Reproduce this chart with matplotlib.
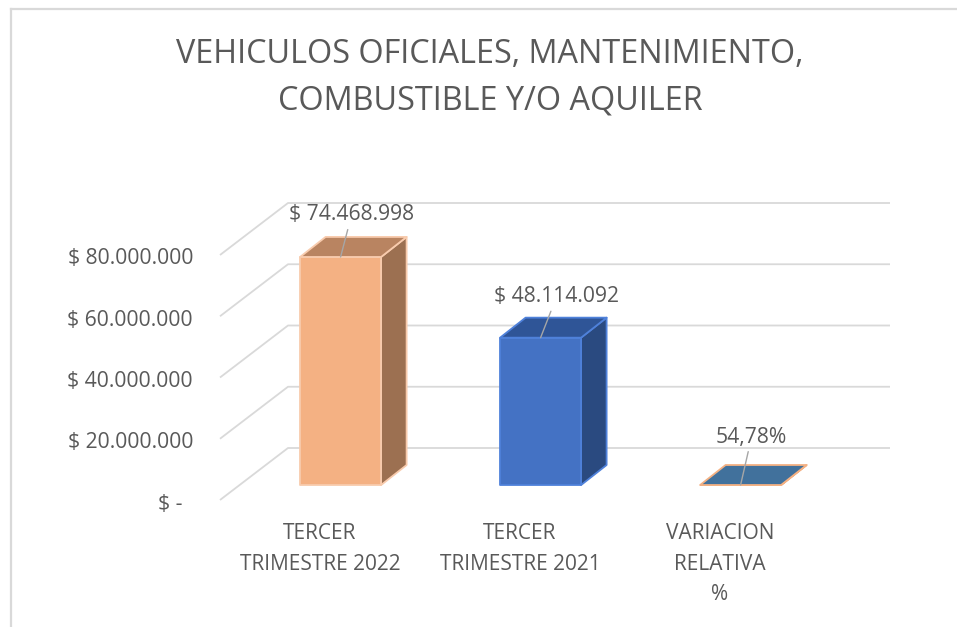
import matplotlib
matplotlib.use("Agg")
import matplotlib.pyplot as plt
from matplotlib.patches import Polygon
from matplotlib.lines import Line2D

plt.rcParams['font.family'] = ['Open Sans', 'DejaVu Sans']

# ---- data ----
categories = ["TERCER\nTRIMESTRE 2022", "TERCER\nTRIMESTRE 2021", "VARIACION\nRELATIVA\n%"]
values = [74468998, 48114092, 0.5478]
value_labels = ["$ 74.468.998", "$ 48.114.092", "54,78%"]
y_ticks = [0, 20000000, 40000000, 60000000, 80000000]
title = "VEHICULOS OFICIALES, MANTENIMIENTO,\nCOMBUSTIBLE Y/O AQUILER"

# ---- style ----
front_colors = ["#F4B183", "#4472C4", "#4472C4"]
top_colors = ["#B98461", "#2F5597", "#41719C"]
side_colors = ["#9C7051", "#2A4A80", "#2A4A80"]
edge_colors = ["#F8CBAD", "#4F81DA", "#F4B183"]
label_offsets = [(11, 42), (16, 41), (11, 48)]
text_color = "#595959"
grid_color = "#D9D9D9"

W, H = 957, 627
fig = plt.figure(figsize=(W / 100, H / 100), dpi=100)
fig.patch.set_facecolor("white")

# axes = front plane of the 3D box
ax_left_px, ax_right_px = 220, 822
ax_bottom_px, ax_top_px = 500, 255
ax = fig.add_axes([ax_left_px / W, (H - ax_bottom_px) / H,
                   (ax_right_px - ax_left_px) / W, (ax_bottom_px - ax_top_px) / H])
xmin, xmax = -0.505, 2.505
ymin, ymax = 0, 80000000
ax.set_xlim(xmin, xmax)
ax.set_ylim(ymin, ymax)
ax.axis("off")

px_per_x = (ax_right_px - ax_left_px) / (xmax - xmin)
px_per_y = (ax_bottom_px - ax_top_px) / (ymax - ymin)

# depth vector of the whole box (in data units)
depth_dx = 68 / px_per_x
depth_dy = 52 / px_per_y
back_right = xmin + (890 - ax_left_px) / px_per_x

# gridlines: diagonal on side wall + back wall
for v in y_ticks:
    ax.plot([xmin, xmin + depth_dx, back_right],
            [v, v + depth_dy, v + depth_dy],
            color=grid_color, lw=1.3, zorder=1, clip_on=False,
            solid_capstyle="butt")
    lab = "$ -  " if v == 0 else "$ " + f"{v:,.0f}".replace(",", ".")
    ax.annotate(lab, xy=(xmin, v), xytext=(-27, -4), textcoords="offset pixels",
                ha="right", va="center", fontsize=15.2, color=text_color,
                annotation_clip=False)

# bars (oblique 3D)
f0 = 0.288
f_bar = 0.385
half_w = 40.5 / px_per_x
for i, v in enumerate(values):
    ox = i + f0 * depth_dx
    oy = f0 * depth_dy
    ddx = f_bar * depth_dx * 0.975
    ddy = f_bar * depth_dy
    xl, xr = ox - half_w, ox + half_w
    y0, y1 = oy, oy + v
    side = [(xr, y0), (xr + ddx, y0 + ddy), (xr + ddx, y1 + ddy), (xr, y1)]
    top = [(xl, y1), (xr, y1), (xr + ddx, y1 + ddy), (xl + ddx, y1 + ddy)]
    front = [(xl, y0), (xr, y0), (xr, y1), (xl, y1)]
    for pts, col in ((side, side_colors[i]), (front, front_colors[i]), (top, top_colors[i])):
        ax.add_patch(Polygon(pts, closed=True, facecolor=col, edgecolor=edge_colors[i],
                             lw=1.3, zorder=3, clip_on=False, joinstyle="round"))
    # data label with leader line
    ax.annotate(value_labels[i], xy=(ox, y1), xytext=label_offsets[i],
                textcoords="offset pixels", ha="center", va="center",
                fontsize=15.2, color=text_color, zorder=5, annotation_clip=False,
                arrowprops=dict(arrowstyle="-", color="#A6A6A6", lw=1.0,
                                shrinkA=1, shrinkB=0))
    # category label
    ax.annotate(categories[i], xy=(i, 0), xytext=(-1, -23), textcoords="offset pixels",
                ha="center", va="top", fontsize=15, color=text_color,
                linespacing=1.6, annotation_clip=False)

# title
fig.text(490 / W, 1 - 78 / H, title, ha="center", va="center", fontsize=23.3,
         color=text_color, linespacing=1.55)

# chart border (left and top visible)
fig.add_artist(Line2D([11 / W, 11 / W], [0, 1 - 9 / H], color=grid_color, lw=1.6))
fig.add_artist(Line2D([11 / W, 1], [1 - 9 / H, 1 - 9 / H], color=grid_color, lw=1.6))

fig.savefig("out.png", dpi=100, facecolor="white")
